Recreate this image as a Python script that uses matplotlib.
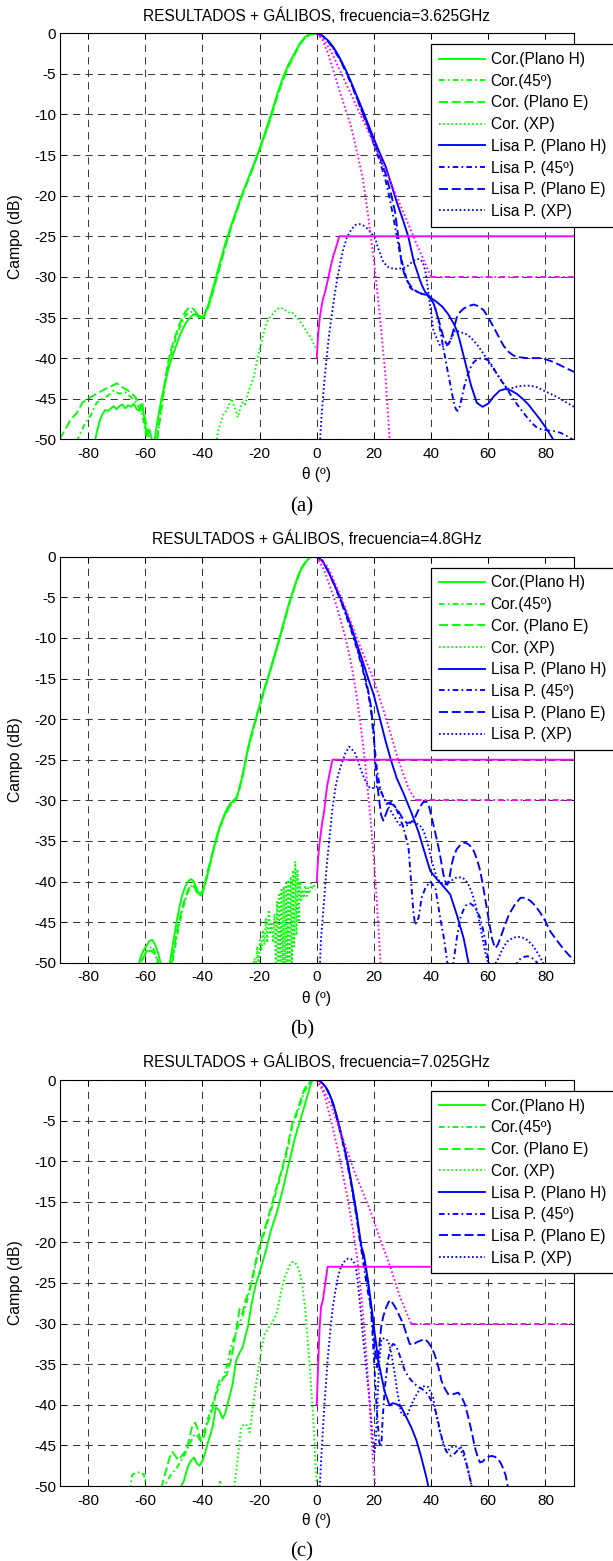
import numpy as np
import matplotlib
matplotlib.use("Agg")
import matplotlib.pyplot as plt

plt.rcParams['font.family'] = ['Liberation Sans', 'DejaVu Sans']
plt.rcParams['axes.unicode_minus'] = False
N = np.nan

# ---------------- common texts / ticks ----------------
TITLES = ["RESULTADOS + GÁLIBOS, frecuencia=3.625GHz",
          "RESULTADOS + GÁLIBOS, frecuencia=4.8GHz",
          "RESULTADOS + GÁLIBOS, frecuencia=7.025GHz"]
CAPTIONS = ["(a)", "(b)", "(c)"]
LEGEND_LABELS = ["Cor.(Plano H)", "Cor.(45º)", "Cor. (Plano E)", "Cor. (XP)",
                 "Lisa P. (Plano H)", "Lisa P. (45º)", "Lisa P. (Plano E)", "Lisa P. (XP)"]
X_TICKS = [-80, -60, -40, -20, 0, 20, 40, 60, 80]
Y_TICKS = [0, -5, -10, -15, -20, -25, -30, -35, -40, -45, -50]
XLABEL = "θ (º)"
YLABEL = "Campo (dB)"

# ======================= PANEL (a) 3.625 GHz =======================
a_cor_h_t = [0, -2, -4, -6, -8, -10, -12, -14, -16, -18, -20, -22, -24, -26, -28, -30, -32, -34, -36, -38,
             -39.5, -41, -42, -43, -44, -45, -46, -47, -48, -49, -50, -51, -52, -53, -54, -55, -56, -56.8,
             -57.5, -58.5, -59.5, -60.3, -61, -62, -63, -64, -65, -66, -67, -68, -69, -70, -71, -72, -73,
             -74, -75, -76, -77, -78]
a_cor_h_db = [0, 0, -0.4, -1.3, -2.6, -3.9, -5.6, -7.7, -10, -12.1, -14.2, -16.1, -17.9, -19.7, -21.7, -23.7,
              -25.9, -28.4, -31, -33.5, -35, -34.8, -34.6, -34.6, -34.9, -35.3, -35.8, -36.5, -37.3, -38.3,
              -39.3, -40.3, -41.5, -43, -44.5, -46.3, -48.3, -50.3, -50.3, -48.8, -49.5, -47.5, -45.6, -46.5,
              -46.3, -45.6, -46, -45.8, -46.2, -45.7, -45.9, -46.3, -45.9, -46.2, -46.5, -46.4, -46.9, -47.8,
              -49.2, -51]
a_cor_45_t = [0, -2, -4, -6, -8, -10, -12, -14, -16, -18, -20, -22, -24, -26, -28, -30, -32, -34, -36, -38,
              -40, -41, -42, -43, -44, -45, -46, -47, -48, -49, -50, -51, -52, -53, -54, -55, -56, -57, -58,
              -59, -60, -61, -63, -65, -67, -69, -71, -73, -75, -77, -79, -81, -83, -85]
a_cor_45_db = [0, -0.1, -0.5, -1.4, -2.7, -4.1, -5.8, -7.9, -10.2, -12.3, -14.3, -16.2, -18, -19.8, -21.8,
               -23.9, -26.2, -28.7, -31.3, -33.6, -35, -35, -34.8, -34.5, -34.3, -34.4, -34.8, -35.5, -36.3,
               -37.2, -38.3, -39.5, -41, -43, -45.5, -48, -50.5, -50.5, -50.5, -50.5, -49, -47, -45.5, -44.8,
               -44.2, -44.4, -44, -44.6, -45, -45.5, -47, -48, -49.5, -51]
a_cor_e_t = [0, -2, -4, -6, -8, -10, -12, -14, -16, -18, -20, -22, -24, -26, -28, -30, -32, -34, -36, -38,
             -40, -41, -42, -43, -44, -45, -46, -47, -48, -49, -50, -51, -52, -53, -54, -55, -56, -58, -59,
             -60, -62, -64, -66, -68, -70, -72, -74, -76, -78, -80, -82, -84, -86, -88, -90]
a_cor_e_db = [0, -0.1, -0.5, -1.4, -2.8, -4.2, -5.9, -8, -10.3, -12.4, -14.4, -16.3, -18.1, -19.9, -21.9,
              -24, -26.3, -28.9, -31.5, -33.8, -35.1, -35, -34.5, -34, -33.7, -33.9, -34.3, -35, -35.8, -36.8,
              -37.8, -39, -40.5, -42.5, -45, -47.5, -50.5, -50.5, -49.5, -47.5, -45.5, -44.6, -44, -43.6,
              -43.1, -43.5, -43.8, -44.2, -44.6, -45, -45.5, -46.8, -47.5, -48.8, -50]
a_cor_xp_t = [-35.5, -34.5, -33.5, -32.5, -31.5, -30.5, -29.7, -29, -28.3, -27.6, -27, -26.3, -25.6, -25,
              -24.2, -23, -22, -21, -20, -19, -18, -17, -16, -15, -14, -13, -12, -11, -10, -9, -8, -7, -6,
              -5, -4, -3, -2, -1, 0]
a_cor_xp_db = [-51, -49, -47.8, -46.8, -46.5, -45.5, -45, -45.8, -46.5, -47.3, -46.5, -45.6, -45.4, -45.7,
               -44.5, -43.2, -42.3, -40.5, -39, -37.5, -36.1, -35.3, -34.8, -34.4, -34, -33.8, -33.9, -34.1,
               -34.4, -34.3, -34.6, -35, -35.4, -35.9, -36.5, -37, -37.5, -38.3, -39]

a_lisa_h_t = [0, 2, 4, 6, 8, 10, 12, 14, 16, 18, 20, 22, 24, 26, 28, 30, 32, 33, 34, 35, 36, 37, 38, 40,
              42, 44, 46, 48, 49, 50, 52, 54, 56, 58, 60, 62, 64, 66, 68, 70, 72, 74, 76, 78, 80, 82, 83.5]
a_lisa_h_db = [0, -0.3, -0.9, -1.8, -3, -4.4, -6, -7.7, -9.4, -11.2, -13, -14.7, -16.3, -18.5, -20.8, -22.8,
               -25, -26.6, -28.2, -29.2, -30.3, -31.2, -31.9, -32.6, -33.1, -33.7, -34.6, -35.8, -36.6, -37.8,
               -40.6, -43.4, -45.5, -46, -45.6, -44.7, -44, -43.8, -44, -44.4, -45, -45.7, -46.6, -47.5,
               -48.5, -49.6, -50.5]
a_lisa_45_t = [0, 2, 4, 6, 8, 10, 12, 14, 16, 18, 20, 22, 24, 25, 26, 27, 28, 29, 30.3, 31.5, 32.6, 34,
               35.6, 37, 39.1, 40.3, 41.4, 42.3, 43.2, 44, 44.9, 45.8, 46.7, 47.4, 48.1, 48.7, 49.3, 50, 50.8,
               51.6, 52.5, 53.6, 54.9, 56.3, 57.8, 59, 60.1, 61.5, 63.1, 64.8, 66.6, 68.3, 70.1, 71.8, 73.6,
               75.3, 77.1, 78.8, 80.6, 83, 85.3, 87.5, 89.4, 90]
a_lisa_45_db = [0, -0.3, -1, -2, -3.2, -4.6, -6.2, -8, -9.8, -11.7, -13.7, -15.7, -18, -19.5, -21.2, -23,
                -25, -26.9, -28.8, -30.3, -31.3, -31.7, -31.9, -32.1, -32.3, -32.9, -33.7, -35, -36.6, -38.2,
                -39.9, -41.6, -43.2, -44.5, -45.7, -46.3, -46.5, -46, -44.8, -43.5, -42.4, -41.3, -40.5, -40.1,
                -40, -40.1, -40.3, -41, -42, -42.9, -43.8, -44.8, -45.7, -46.5, -47.3, -48, -48.6, -48.8,
                -48.9, -49, -49.2, -49.6, -50, -50.2]
a_lisa_e_t = [0, 2, 4, 6, 8, 10, 12, 14, 16, 18, 20, 22, 24, 26, 27.4, 28.5, 29.7, 30.6, 31.5, 33, 34.5,
              36.7, 38.5, 40, 41, 42, 43.2, 44.3, 45.3, 46.1, 47, 48, 49, 50.2, 51.4, 53, 54.9, 56.5, 58.4,
              60, 61.9, 63.7, 65.4, 67, 68.9, 71, 73.6, 76, 78.3, 80.5, 83, 85.3, 87.6, 90]
a_lisa_e_db = [0, -0.3, -1, -1.9, -3.1, -4.5, -6.1, -7.9, -9.7, -11.5, -13.4, -15.2, -17.2, -19.8, -22,
               -25, -28.4, -29.6, -30.4, -31.2, -31.7, -32.1, -32.2, -32.8, -33.4, -34.5, -36, -37.4, -38.2,
               -38.3, -37.6, -36.3, -35, -34.3, -33.9, -33.6, -33.4, -33.6, -34.1, -35, -36.2, -37.4, -38.5,
               -39.2, -39.7, -39.9, -40, -40, -40, -40.2, -40.5, -40.9, -41.3, -41.7]
a_lisa_xp_t = [1, 1.7, 2.5, 3.3, 4.2, 5.2, 6.2, 7.3, 8.3, 9.3, 10.5, 12, 13.5, 15, 16.5, 18.2, 19.5, 20.3,
               21.5, 23.3, 25, 26.8, 28.5, 30.3, 32, 33.2, 34.5, 35.6, 36.5, 37.3, 38, 38.5, 39.1, 39.7, 40.3,
               40.8, 42, 43.2, 44.5, 46.1, 47.3, 48.4, 50.2, 52, 53.7, 56, 58.4, 60.8, 63.1, 64.9, 66.6,
               68.3, 70.1, 72.5, 74.8, 77.1, 79.4, 81.8, 84.1, 87, 90]
a_lisa_xp_db = [-51, -47, -43.5, -40.5, -37.5, -34.9, -32.3, -30, -28.2, -26.6, -25.2, -24.2, -23.6, -23.5,
                -23.7, -24.2, -24.8, -25.1, -26.5, -28.2, -28.8, -29, -29, -28.9, -28.6, -28.2, -27.9, -27.8,
                -27.9, -28.4, -29.3, -30.4, -32, -33.7, -35.2, -36.6, -37.6, -38.5, -38.6, -38.3, -37.4,
                -36.6, -36.8, -37, -37.4, -38.3, -39.5, -40.8, -42, -42.9, -43.8, -43.7, -43.5, -43.4, -43.4,
                -43.6, -44, -44.4, -44.8, -45.4, -46]

a_mask_xp_t = [0, 0.5, 1.1, 2, 3.1, 4, 4.9, 5.8, 6.8, 7.9, 90]
a_mask_xp_db = [-40, -37, -34.9, -33, -31.6, -30.2, -28.7, -27.4, -26.3, -25, -25]
a_mask_lo_t = [0, 2, 4, 6, 8, 10, 12, 14, 16, 18, 20, 22, 24, 25.6]
a_mask_lo_db = [0, -0.8, -2.5, -4.8, -7.1, -9.3, -11.5, -14.5, -17.6, -22.5, -28, -34.5, -42, -50.5]
a_mask_hi_t = [0, 2, 5, 10, 15, 20, 25, 30, 35, 40]
a_mask_hi_db = [0, -0.5, -2.2, -6, -9.8, -13.6, -17.6, -21.8, -26, -30]
a_mask_floor_t = [40, 90]
a_mask_floor_db = [-30, -30]

# ======================= PANEL (b) 4.8 GHz =======================
b_cor_h_t = [0, -1, -2, -3, -4, -5, -6, -7, -8, -9, -10, -11, -12, -13, -14, -15, -16, -17, -18, -19, -20,
             -21, -22, -23, -24, -25, -26, -27, -28, -29, -30, -31, -32, -33, -34, -35, -36, -37, -38, -39,
             -40, -41, -42, -43, -44, -45, -46, -47, -48, -49, -50, -51, -51.6, N,
             -54.5, -55.5, -56.5, -57.5, -58.5, -59.5, -60.5, -61.5, -62.5]
b_cor_h_db = [0, 0, 0, -0.3, -0.7, -1.2, -1.9, -2.8, -3.9, -5, -6.1, -7.4, -8.7, -10, -11.2, -12.4, -13.6,
              -14.8, -15.9, -17.1, -18.3, -19.6, -20.8, -22, -23.5, -25.2, -27, -28.5, -29.6, -30, -30.3,
              -30.8, -31.5, -32.4, -33.3, -34.5, -35.8, -37.3, -38.8, -40.2, -41.2, -41.6, -41, -40, -39.7,
              -40, -40.6, -41.6, -43.1, -44.9, -47, -49.2, -50.5, N,
              -50.2, -48.8, -47.8, -47.2, -47.3, -47.9, -48.4, -49.2, -50.5]
b_cor_45_t = [0, -1, -2, -3, -4, -5, -6, -7, -8, -9, -10, -12, -14, -16, -18, -20, -22, -24, -26, -28, -30,
              -32, -34, -36, -38, -39, -40, -41, -42, -43, -44, -45, -46, -47, -48, -49, -50, -51, N,
              -55.5, -56.5, -57.5, -58.5, -59.5, -60.5, -61.5]
b_cor_45_db = [0, 0, 0, -0.3, -0.8, -1.3, -2, -2.9, -4, -5.1, -6.3, -8.9, -11.4, -13.8, -16.1, -18.5, -21,
               -23.7, -27.2, -29.8, -30.6, -31.7, -33.5, -36, -38.9, -40.3, -41.4, -41.5, -40.8, -40.3, -40.6,
               -41.2, -42.3, -43.6, -45.2, -47, -49, -51, N,
               -50.5, -48.9, -48, -48.2, -48.6, -49.2, -50.5]
b_cor_e_t = [0, -1, -2, -3, -4, -5, -6, -7, -8, -9, -10, -12, -14, -16, -18, -20, -22, -24, -26, -28, -30,
             -32, -34, -36, -38, -39, -40, -41, -42, -43, -44, -45, -46, -47, -48, -49, -50, -51, N,
             -55, -56, -57, -58, -59, -60, -61, -62]
b_cor_e_db = [0, 0, 0, -0.3, -0.7, -1.2, -2, -2.9, -4, -5.1, -6.2, -8.8, -11.3, -13.7, -16, -18.4, -20.9,
              -23.6, -27, -29.7, -30.5, -31.6, -33.4, -35.9, -38.5, -40, -41.5, -41.8, -41.3, -40.6, -40.5,
              -41, -42, -43.2, -44.6, -46.3, -48.3, -50.5, N,
              -50.5, -49.3, -48.8, -48.5, -48.6, -49, -49.5, -50.5]
b_cor_xp_t = [-22.2, -21.8, -21.3, -20.8, -20.3, -19.8, -19.3, -18.8, -18.3, -17.8, -17.3, -16.8, -16.3,
              -15.8, -15.3, -14.8, -14.3, -13.9, -13.5, -13.1, -12.7, -12.3, -11.9, -11.5, -11.1, -10.7,
              -10.3, -9.9, -9.5, -9.1, -8.7, -8.3, -7.9, -7.5, -7.1, -6.7, -6.3, -5.9, -5.5, -5, -4.5, -4,
              -3.5, -3, -2.5, -2, -1.5, -1, -0.5]
b_cor_xp_db = [-50.5, -49.5, -50.5, -48, -50.5, -47.2, -48.5, -46, -47.8, -44.5, -47.5, -43.5, -46.5, -45,
               -47.5, -44, -50.5, -42.5, -50.5, -41.4, -50.5, -41, -50.5, -40.6, -50.5, -40.2, -50.5, -39.8,
               -50.5, -39.4, -50, -38.6, -48, -37.5, -46.6, -38.5, -45, -40, -42.3, -41, -42, -40.5, -41.8,
               -40.8, -41.5, -40.2, -40.8, -40.5, -41]

b_lisa_h_t = [0, 2, 4, 6, 8, 10, 12, 14, 16, 18, 20, 22, 24, 26, 28, 30.3, 33.2, 35.6, 37.9, 39.7, 42,
              44.3, 46.7, 49, 51.4, 53.1, 53.6]
b_lisa_h_db = [0, -0.5, -1.8, -3.3, -4.9, -6.6, -8.5, -10.7, -12.8, -15, -17.1, -19.8, -22.6, -25.1, -27.3,
               -29.1, -31.6, -33.9, -36.6, -38.7, -39.7, -40.6, -41.6, -44.1, -47, -50, -50.6]
b_lisa_45_t = [0, 2, 4, 6, 8, 10, 12, 14, 16, 18, 19, 20, 21, 22, 22.7, 24.4, 26.2, 28, 30.3, 32.1, 32.9,
               33.8, 34.4, 35.6, 36.7, 38, 39.7, 41.5, 43.2, 44.5, 45.7, 46.2, N,
               47.3, 47.8, 49, 50.2, 51.3, 52.5, 53.7, 54.9, 56, 57.2, 58.1, 59, 60.2, 60.7, N,
               69.6, 70.1, 71.3, 72.5, 73.6, 74.8, 76, 77.1, 77.6]
b_lisa_45_db = [0, -0.5, -1.8, -3.4, -5.1, -7, -9, -11.3, -13.8, -16.8, -19, -22.5, -26, -28.3, -29.1,
                -30.4, -30.2, -31.2, -33.3, -35.8, -39.5, -43.7, -45.3, -44.5, -42, -40.8, -40, -40.8, -44.5,
                -47, -50, -50.6, N,
                -50.6, -50, -47, -44.5, -43.5, -42.8, -42.7, -43, -43.6, -44.5, -45.8, -47.4, -50, -50.6, N,
                -50.6, -50, -49.5, -49.3, -49.2, -49.3, -49.6, -50, -50.6]
b_lisa_e_t = [0, 2, 4, 6, 8, 10, 12, 14, 16, 18, 19, 20, 20.4, 21.5, 22.5, 23.3, 24.4, 25.6, 27, 28.5, 30,
              31.5, 33, 34.4, 35.8, 37.3, 38.5, 39.3, 40.2, 41.4, 42.6, 43.5, 44.3, 45, 45.7, 46.4, 47.2, 48,
              49, 50.5, 51.9, 53.4, 54.9, 56, 57.2, 58.3, 59.5, 60.4, 61.3, 62, 62.5, 63.3, 64.2, 65.7, 67.2,
              69.2, 71.3, 73, 74.8, 76.5, 78.3, 80, 81.8, 84.1, 86.5, 88.3, 90]
b_lisa_e_db = [0, -0.5, -1.8, -3.3, -5, -6.8, -8.8, -11, -13.5, -16.5, -18.5, -22, -25, -29, -31.8, -32.5,
               -31.5, -30.4, -30.6, -31.3, -32.2, -32.8, -32.7, -32.1, -31, -30.2, -30.2, -30.8, -32.1, -33.9,
               -35.8, -37.5, -39.1, -40, -40.4, -39.6, -37.9, -36.8, -36, -35.4, -35.2, -35.5, -36.2, -37.2,
               -38.7, -40.8, -43.3, -45.2, -47, -47.8, -48.2, -47.8, -47, -45.5, -44.1, -42.9, -42, -42,
               -42.4, -43, -43.9, -44.9, -46.2, -47.3, -48.4, -49.1, -49.7]
b_lisa_xp_t = [1, 1.5, 2.5, 3.5, 4.5, 5.5, 6.6, 7.5, 8.6, 10, 11.4, 12.5, 13.4, 14.5, 15.5, 16.5, 17.5,
               18.6, 19.6, 20.9, 22.3, 23.3, 24.4, 25.7, 27.1, 28.5, 29.8, 31.5, 33.2, 34.4, 35.5, 36.7,
               37.6, 38.5, 39.4, 40.2, 41.1, 42, 43.2, 44.3, 45.5, 46.7, 47.9, 49, 50.8, 52, 53.1, 54.3,
               55.5, 56.7, 57.8, 58.7, 59.5, 60.5, 61.5, 62.5, 63.5, 64.5, 65.5, 66.6, 68.3, 70.1, 71.9,
               73.6, 75.4, 77.1, 78.3, 79.4]
b_lisa_xp_db = [-51, -47, -42.7, -38, -34.5, -31, -28.3, -26.8, -25.6, -24.2, -23.4, -23.8, -24.2, -25.2,
                -26.3, -27.2, -27.9, -28.5, -28.5, -28.3, -28.7, -29.6, -30.4, -31.2, -32, -32.8, -33.3,
                -33.1, -32.6, -32.7, -33, -33.3, -34, -35, -36.1, -37.4, -38.5, -39.5, -40.1, -40.4, -40.3,
                -40, -39.7, -39.5, -39.5, -39.8, -40.4, -41.4, -42.8, -44.6, -46.6, -48.3, -49.6, -50.3,
                -50.4, -50.1, -49.5, -48.7, -48, -47.4, -47, -46.8, -46.9, -47.2, -47.8, -48.7, -49.4, -50.2]

b_mask_xp_t = [0, 0.5, 1.1, 2, 2.5, 3, 3.6, 4.5, 5.5, 90]
b_mask_xp_db = [-40, -37, -34.9, -32.5, -31.6, -30, -28.3, -26.7, -25, -25]
b_mask_lo_t = [0, 2.5, 4.5, 6.6, 8.5, 10, 11.5, 12.7, 13.8, 14.8, 15.8, 16.8, 17.5, 18.2, 19, 19.6, 20.3,
               20.9, 21.6, 22.4]
b_mask_lo_db = [0, -1.6, -3.5, -5.7, -8, -9.9, -12.3, -14.4, -16.8, -19.3, -22, -25, -27.5, -30, -33,
                -35.7, -38.8, -41.9, -45.8, -50.5]
b_mask_hi_t = [0, 3.8, 6.5, 9.3, 12, 14.8, 17.2, 19.6, 22, 24.4, 26.5, 28.5, 30.2, 31.9, 33.3, 34.8]
b_mask_hi_db = [0, -1.2, -3.3, -5.7, -8.1, -10.7, -12.8, -14.8, -17.4, -20.1, -22.6, -25, -26.7, -28.3,
                -29.3, -30]
b_mask_floor_t = [34.8, 90]
b_mask_floor_db = [-30, -30]

# ======================= PANEL (c) 7.025 GHz =======================
c_cor_h_t = [0, -1.6, -3, -4.3, -5.7, -6.8, -7.8, -8.8, -9.8, -10.9, -11.9, -13, -14, -15, -16, -17, -18,
             -19, -20.1, -21.2, -22.2, -23, -24.1, -25, -25.9, -27, -28.2, -29.4, -30.3, -31.2, -32, -32.9,
             -33.5, -34.1, -35.3, -36.5, -37.3, -38.2, -39.1, -40, -41, -42, -42.9, -43.8, -44.7, -45.6,
             -46.5, -47.4, -47.8]
c_cor_h_db = [0, 0, -1.6, -3.2, -4.9, -6.1, -7.4, -8.9, -10.3, -12, -13.5, -15, -16.4, -17.4, -18.5, -19.9,
              -21.3, -22.5, -23.8, -25, -26.5, -28, -30.4, -31.6, -32.9, -33.6, -34.5, -37.4, -38.7, -39.9,
              -41, -41.7, -41.2, -40.7, -40.3, -42.8, -43.8, -44.8, -46, -46.9, -47.5, -47.2, -46.5, -46.8,
              -47.3, -48.2, -49.4, -50, -50.6]
c_cor_45_t = [0, -1.6, -2.5, -3.5, -4.4, -5.4, -6.4, -7.4, -8.5, -9.5, -10.5, -11.5, -12.6, -14, -15.3,
              -16.6, -18, -19, -20.1, -21.2, -22.2, -23.5, -24.9, -26.2, -27.6, -28.7, -29.7, -30.7, -31.7,
              -32.8, -33.8, -34.8, -35.8, -36.9, -37.9, -39, -40, -41, -42, -43, -44, -45, -46, -47, -48,
              -49, -50, -51, -52, -53, -54, N, -59.5, -60.5, -61.5, -62.5, -63.5, -64.5, -65.5]
c_cor_45_db = [0, 0, -0.4, -0.9, -1.5, -2.6, -3.6, -4.6, -5.6, -7.3, -9, -10.3, -11.8, -13.5, -15.2, -16.8,
               -18.4, -19.6, -20.8, -22.4, -24.1, -26, -27.9, -29.3, -30.4, -31.6, -32.5, -34, -35.6, -36.8,
               -37.4, -38.3, -39.2, -40.5, -41.5, -42.8, -44, -44.3, -43.6, -43.8, -44.5, -45.2, -46, -46.6,
               -47.2, -47.8, -48.2, -48.6, -49.2, -49.8, -50.6, N, -50.6, -48.5, -48.6, -48.3, -48.4, -48.6,
               -50.6]
c_cor_e_t = [0, -1.6, -2.5, -3.5, -4.4, -5.4, -6.4, -7.4, -8.5, -9.5, -10.5, -11.5, -12.6, -14, -15.3,
             -16.6, -18, -19, -20.1, -21.2, -22.2, -23.5, -25, -26, -27, -28.5, -30, -31.5, -33, -34, -35,
             -36, -37, -38.5, -39.5, -40.5, -41.5, -42.5, -43.5, -44.5, -45.5, -47, -48.5, -49.5, -50.5,
             -51.5, -52.5, -53.5, -54.5]
c_cor_e_db = [0, 0, -0.3, -0.7, -1.2, -2.2, -3.3, -4.3, -5.3, -7, -8.6, -10, -11.5, -13.1, -14.8, -16.4,
              -18.1, -19.2, -20.5, -22.1, -23.8, -25.8, -27.2, -28.8, -28.2, -31.5, -34.5, -36.3, -36.8, -37,
              -38, -39.8, -41.2, -42.5, -44, -44.5, -43.2, -42.2, -42.5, -44, -45.5, -46.2, -46.8, -46.3,
              -45.8, -46.5, -47.8, -49, -50.6]
c_cor_xp_t = [-34.3, -33.8, -33.3, N, -29.2, -28.8, -28.2, -27.6, -27, -26.5, -25.6, -24.7, -24, -23.5,
              -22.9, -22.4, -21.2, -20, -19.1, -18.2, -17, -15.9, -15, -14.1, -13.2, -12.4, -11.2, -10.3,
              -9.4, -8.5, -7.6, -6.8, -5.9, -5, -4.1, -3.5, -2.9, -2.3, -1.8, -1.3, -0.9, -0.4, 0]
c_cor_xp_db = [-50.6, -49.3, -50.6, N, -50.6, -50, -48.2, -46.5, -44.5, -42.8, -42.5, -42.4, -42.9, -43.4,
               -42, -40.3, -37.4, -34.5, -32.7, -31.3, -30.6, -30, -29.5, -28.8, -27.4, -25.9, -24.3, -23.5,
               -22.8, -22.4, -22.5, -22.9, -23.8, -25.5, -28, -30.6, -33.3, -36, -38.7, -41.2, -43.6, -47.7,
               -49.8]

c_lisa_h_t = [0, 1, 2, 3, 4, 5, 6, 7, 8, 9, 10, 11, 12, 13, 14, 15, 15.6, 16.5, 17.9, 19, 19.6, 20.2,
              20.8, 21.4, 22, 23.7, 25.5, 26.5, 27.8, 29.6, 31.3, 33.1, 34.9, 36.6, 38.4, 39, 39.5]
c_lisa_h_db = [0, -0.1, -0.4, -0.8, -1.4, -2.2, -3.2, -4.5, -5.9, -7.3, -8.8, -10.5, -12.4, -14.4, -16.5,
               -19, -20.5, -21.5, -24.6, -27.5, -29.2, -31, -32.5, -34.5, -35.4, -38.3, -40.1, -39.8, -39.9,
               -40.3, -41.5, -42.8, -44.4, -46.5, -49, -50, -50.6]
c_lisa_45_t = [0, 1, 2, 3, 4, 5, 6, 7, 8, 9, 10, 11, 12, 13, 14, 15, 16, 17, 18, 18.9, 20, 20.9, 21.9,
               22.6, 23, 23.8, 24.9, 25.8, 26.7, 27.6, 28.4, 29.6, 30.8, 32, 33.1, 34.2, 35.4, 36.6, 37.8,
               39, 40.1, 41, 41.9, 42.5, 43, 43.6, 44.2, 45, 46, 47, 48, 49.3, 50.7, 51.6, 52.4, 53.3, 54.2,
               54.6]
c_lisa_45_db = [0, -0.1, -0.4, -0.8, -1.5, -2.3, -3.4, -4.7, -6.1, -7.6, -9.2, -10.9, -12.8, -14.9, -17.1,
                -19.6, -21.8, -24.2, -26.3, -27.9, -34.1, -40.2, -44.7, -45.2, -42, -38, -34.5, -33, -32.5,
                -32.7, -33.3, -34.5, -35.8, -36.5, -37, -37.4, -37.8, -38, -38.3, -38.8, -39.5, -40.2, -41.1,
                -42, -43.2, -43.8, -44.8, -45.5, -46.1, -46.3, -46.1, -45.6, -45.2, -46, -47.3, -48.6, -50,
                -50.6]
c_lisa_e_t = [0, 1, 2, 3, 4, 5, 6, 7, 8, 9, 10, 11, 12, 13, 14, 15, 16, 17, 18, 19, 19.8, 20.5, 21.2,
              21.8, 22.5, 23.2, 24.3, 25.5, 26.6, 27.8, 29, 30.2, 31.3, 32.5, 33.7, 34.9, 36.3, 37.8, 39,
              40.1, 41, 41.9, 42.8, 43.6, 44.8, 46, 47.7, 49.5, 50.6, 51.8, 52.7, 53.6, 54.5, 55.3, 56.2,
              57.1, 58, 58.8, 60, 61.2, 62.3, 63.5, 64.4, 65.3, 66.1, 66.8, 67.2]
c_lisa_e_db = [0, -0.1, -0.4, -0.8, -1.4, -2.2, -3.2, -4.5, -5.9, -7.3, -8.9, -10.6, -12.5, -14.6, -16.8,
               -19.3, -21.3, -23.2, -25.5, -28.2, -31, -33.5, -35.4, -33, -30.5, -29.2, -28, -27.1, -27.5,
               -28.2, -29.1, -30, -31.2, -32.5, -32.6, -32.3, -32.1, -31.9, -32.3, -32.9, -33.6, -34.5,
               -35.7, -37, -38, -38.7, -38.7, -38.5, -39, -39.9, -41.1, -42.4, -43.8, -45.2, -46.3, -47.1,
               -47, -46.7, -46.4, -46.3, -46.4, -46.7, -47.2, -47.9, -48.7, -50, -50.6]
c_lisa_xp_t = [1, 1.5, 2, 2.7, 3.3, 3.8, 4.7, 5.6, 6.5, 7.4, 8.2, 9.1, 10, 10.9, 11.8, 12.6, 13.2, 13.8,
               14.4, 15, 15.6, 16.1, 16.7, 17.3, 17.9, 18.5, 19.1, 19.6, 20.1, 20.6, 21.2, 21.8, 22.6, 23.7,
               24.9, 25.7, 26.5, 27.3, 28, 28.8, 29.6, 30.7, 31.9, 33.1, 34.3, 35.5, 36.6, 37.8, 39, 40.7,
               41.9, 42.8, 43.6, 44.5, 45.4, 46.3, 47.2, 48.3, 49.5, 50.3, 51, 51.7, 52.4, 53.3, 54.2, 54.6]
c_lisa_xp_db = [-50.6, -47, -44, -39.9, -37, -34.5, -31, -28, -26, -24.3, -23.3, -22.6, -22.2, -22, -22,
                -22.2, -22.6, -23.4, -25, -27.1, -29.2, -31.3, -33.4, -35.4, -37.5, -39.5, -42, -44.5, -46,
                -45, -40, -35, -31.9, -31.8, -32.1, -33, -34.5, -36.2, -38, -39.6, -41.1, -41.3, -41.1, -40,
                -39.1, -38.4, -37.8, -37.7, -37.8, -39.1, -41.5, -42.8, -44, -44.9, -45.7, -45.5, -45.2,
                -45.1, -45.2, -45.6, -46, -46.6, -47.3, -48.6, -50, -50.6]

c_mask_xp_t = [0, 0.5, 1, 1.5, 2.2, 3, 3.8, 90]
c_mask_xp_db = [-40, -35, -30.5, -28, -27, -25, -23, -23]
c_mask_lo_t = [0, 2.5, 5.2, 7.9, 10.7, 12.7, 14.1, 15.5, 16.8, 18.2, 19.2, 20.2, 20.8]
c_mask_lo_db = [0, -1.6, -5.3, -9.4, -14.4, -18.5, -21.8, -26.3, -31.2, -38.2, -44.3, -49.2, -50.6]
c_mask_hi_t = [0, 1.1, 5.2, 9.3, 13.4, 18.2, 22.3, 25.7, 29.1, 33]
c_mask_hi_db = [0, -0.3, -3.3, -7.4, -11.5, -15.6, -19.7, -23, -26.7, -30]
c_mask_floor_t = [33, 90]
c_mask_floor_db = [-30, -30]

# ---------------- styles ----------------
GREEN, BLUE, MAGENTA = '#00ff00', '#0000ff', '#ff00ff'
LW = 1.35
SOLID = '-'
DASHED = (0, (4.8, 2.0))
DASHDOT = (0, (3.0, 1.7, 0.9, 1.7))
DOTTED = (0, (0.9, 1.3))

PANELS = [
    dict(cor=[(a_cor_h_t, a_cor_h_db), (a_cor_45_t, a_cor_45_db), (a_cor_e_t, a_cor_e_db), (a_cor_xp_t, a_cor_xp_db)],
         lisa=[(a_lisa_h_t, a_lisa_h_db), (a_lisa_45_t, a_lisa_45_db), (a_lisa_e_t, a_lisa_e_db), (a_lisa_xp_t, a_lisa_xp_db)],
         mask_xp=(a_mask_xp_t, a_mask_xp_db), mask_lo=(a_mask_lo_t, a_mask_lo_db),
         mask_hi=(a_mask_hi_t, a_mask_hi_db), mask_floor=(a_mask_floor_t, a_mask_floor_db)),
    dict(cor=[(b_cor_h_t, b_cor_h_db), (b_cor_45_t, b_cor_45_db), (b_cor_e_t, b_cor_e_db), (b_cor_xp_t, b_cor_xp_db)],
         lisa=[(b_lisa_h_t, b_lisa_h_db), (b_lisa_45_t, b_lisa_45_db), (b_lisa_e_t, b_lisa_e_db), (b_lisa_xp_t, b_lisa_xp_db)],
         mask_xp=(b_mask_xp_t, b_mask_xp_db), mask_lo=(b_mask_lo_t, b_mask_lo_db),
         mask_hi=(b_mask_hi_t, b_mask_hi_db), mask_floor=(b_mask_floor_t, b_mask_floor_db)),
    dict(cor=[(c_cor_h_t, c_cor_h_db), (c_cor_45_t, c_cor_45_db), (c_cor_e_t, c_cor_e_db), (c_cor_xp_t, c_cor_xp_db)],
         lisa=[(c_lisa_h_t, c_lisa_h_db), (c_lisa_45_t, c_lisa_45_db), (c_lisa_e_t, c_lisa_e_db), (c_lisa_xp_t, c_lisa_xp_db)],
         mask_xp=(c_mask_xp_t, c_mask_xp_db), mask_lo=(c_mask_lo_t, c_mask_lo_db),
         mask_hi=(c_mask_hi_t, c_mask_hi_db), mask_floor=(c_mask_floor_t, c_mask_floor_db)),
]

# ---------------- layout (pixels) ----------------
W, H = 613, 1561
AX_L, AX_W, AX_H = 59.5, 514.5, 406
AX_TOPS = [33.3, 556.7, 1080]
TITLE_Y = [16, 539, 1062]
XLABEL_Y = [475, 998, 1520]
CAPTION_Y = [507, 1030, 1552]

fig = plt.figure(figsize=(W / 100, H / 100), dpi=100)
fig.patch.set_facecolor('white')

styles = [SOLID, DASHDOT, DASHED, DOTTED]
for i, p in enumerate(PANELS):
    top = AX_TOPS[i]
    ax = fig.add_axes([AX_L / W, 1 - (top + AX_H) / H, AX_W / W, AX_H / H])
    ax.set_xlim(-90, 90)
    ax.set_ylim(-50, 0)
    ax.set_xticks(X_TICKS)
    ax.set_xticklabels([str(v) for v in X_TICKS])
    ax.set_yticks(Y_TICKS)
    ax.set_yticklabels([str(v) for v in Y_TICKS])
    ax.set_axisbelow(True)
    ax.grid(True, color='#3c3c3c', lw=0.75, ls=(0, (7, 5)))
    ax.tick_params(direction='in', top=True, right=True, length=4, width=0.7,
                   labelsize=11, colors='black')
    ax.tick_params(axis='x', pad=5.5)
    ax.tick_params(axis='y', pad=2.5)
    for s in ax.spines.values():
        s.set_linewidth(0.8)

    handles = []
    for (t, d), ls, lab in zip(p['cor'], styles, LEGEND_LABELS[:4]):
        h, = ax.plot(t, d, color=GREEN, lw=LW, ls=ls, label=lab)
        handles.append(h)
    for (t, d), ls, lab in zip(p['lisa'], styles, LEGEND_LABELS[4:]):
        h, = ax.plot(t, d, color=BLUE, lw=LW, ls=ls, label=lab)
        handles.append(h)
    ax.plot(*p['mask_xp'], color=MAGENTA, lw=LW, ls=SOLID)
    ax.plot(*p['mask_lo'], color=MAGENTA, lw=LW, ls=DOTTED)
    ax.plot(*p['mask_hi'], color=MAGENTA, lw=LW, ls=DOTTED)
    ax.plot(*p['mask_floor'], color=MAGENTA, lw=LW, ls=DASHDOT)

    leg = ax.legend(handles=handles, loc='upper left',
                    bbox_to_anchor=(431 / W, 1 - (top + 11) / H),
                    bbox_transform=fig.transFigure, fontsize=11.2, frameon=True,
                    fancybox=False, shadow=False, framealpha=1, edgecolor='black',
                    borderpad=0.5, labelspacing=0.43, handlelength=2.95,
                    handletextpad=0.38, borderaxespad=0)
    leg.get_frame().set_linewidth(0.9)

    cx = (AX_L + AX_W / 2) / W
    fig.text(cx, 1 - TITLE_Y[i] / H, TITLES[i], ha='center', va='center', fontsize=11.2)
    fig.text(cx, 1 - XLABEL_Y[i] / H, XLABEL, ha='center', va='center', fontsize=11.2)
    fig.text(15.6 / W, 1 - (top + AX_H / 2) / H, YLABEL, rotation=90, ha='center',
             va='center', fontsize=11.3)
    fig.text(302 / W, 1 - CAPTION_Y[i] / H, CAPTIONS[i], ha='center', va='center',
             fontsize=15, family=['Liberation Serif', 'DejaVu Serif'])

fig.savefig('out.png', dpi=100, facecolor='white')
